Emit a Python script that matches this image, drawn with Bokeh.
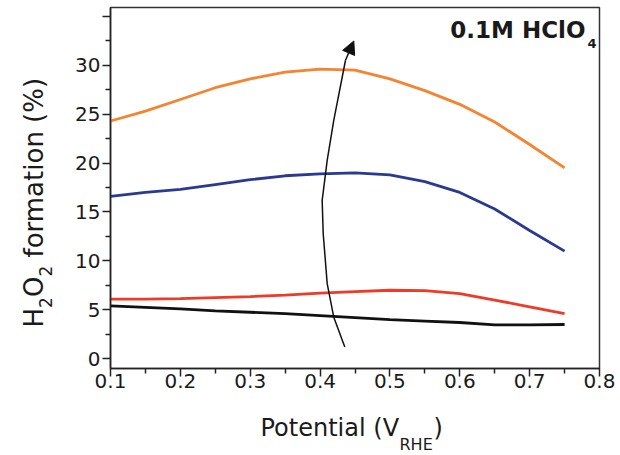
import math
from bokeh.plotting import figure
from bokeh.models import Range1d, Label, Arrow, NormalHead, FixedTicker
from bokeh.layouts import row, column
from bokeh.embed import file_html
from bokeh.resources import INLINE

# ---- data ----
potential = [0.10, 0.15, 0.20, 0.25, 0.30, 0.35, 0.40, 0.45, 0.50, 0.55, 0.60, 0.65, 0.70, 0.75]
h2o2_orange = [24.3, 25.3, 26.5, 27.7, 28.6, 29.3, 29.6, 29.5, 28.6, 27.4, 26.0, 24.2, 21.9, 19.5]
h2o2_blue = [16.6, 17.0, 17.3, 17.8, 18.3, 18.7, 18.9, 19.0, 18.8, 18.1, 17.0, 15.3, 13.1, 11.0]
h2o2_red = [6.1, 6.1, 6.15, 6.25, 6.35, 6.5, 6.7, 6.85, 7.0, 6.95, 6.65, 6.0, 5.3, 4.6]
h2o2_black = [5.4, 5.25, 5.1, 4.9, 4.75, 4.6, 4.4, 4.2, 4.0, 3.85, 3.7, 3.45, 3.45, 3.5]

series_colors = ["#F5832F", "#2B3990", "#EE3B27", "#111111"]

x_ticks = [0.1, 0.2, 0.3, 0.4, 0.5, 0.6, 0.7, 0.8]
x_minor = [0.15, 0.25, 0.35, 0.45, 0.55, 0.65, 0.75]
y_ticks = [0, 5, 10, 15, 20, 25, 30, 35]
y_minor = [2.5, 7.5, 12.5, 17.5, 22.5, 27.5, 32.5]

# trend arrow (annotation) path
arrow_x = [0.4354, 0.4196, 0.4102, 0.4045, 0.4030, 0.4102, 0.4196, 0.4364]
arrow_y = [1.19, 4.25, 7.67, 12.78, 16.19, 20.28, 24.37, 30.51]
arrow_tip = (0.4483, 32.48)

FONT = "DejaVu Sans"
TXT = "#1a1a1a"
BASE_K = 0.37  # baseline correction factor (fraction of font size)

p = figure(width=562, height=408, output_backend="svg", toolbar_location=None,
           x_range=Range1d(0.1, 0.8), y_range=Range1d(-1.0, 35.9), frame_align=False,
           min_border_left=52, min_border_right=21, min_border_top=7, min_border_bottom=40)
p.background_fill_color = "#FFFFFF"
p.border_fill_color = "#FFFFFF"
p.xgrid.visible = False
p.ygrid.visible = False
p.outline_line_color = "#333333"
p.outline_line_width = 1.5

for ys, c in zip([h2o2_orange, h2o2_blue, h2o2_red, h2o2_black], series_colors):
    p.line(potential, ys, line_color=c, line_width=2.8)

# arrow
p.line(arrow_x, arrow_y, line_color="#111111", line_width=1.5)
p.add_layout(Arrow(end=NormalHead(size=13, fill_color="#111111", line_color="#111111", line_width=1),
                   x_start=arrow_x[-1], y_start=arrow_y[-1], x_end=arrow_tip[0], y_end=arrow_tip[1],
                   line_color="#111111", line_width=1.5))

for ax in (p.xaxis[0], p.yaxis[0]):
    ax.axis_line_color = "#222222"
    ax.axis_line_width = 1.5
    ax.major_tick_line_color = "#222222"
    ax.minor_tick_line_color = "#222222"
    ax.major_tick_line_width = 1.5
    ax.minor_tick_line_width = 1.5
    ax.major_tick_in = 0
    ax.major_tick_out = 8
    ax.minor_tick_in = 0
    ax.minor_tick_out = 5
    ax.major_label_text_font = FONT
    ax.major_label_text_font_size = "20px"
    ax.major_label_text_color = TXT

p.xaxis.ticker = FixedTicker(ticks=x_ticks, minor_ticks=x_minor)
p.yaxis.ticker = FixedTicker(ticks=y_ticks, minor_ticks=y_minor)
p.yaxis.major_label_overrides = {35: ""}
p.xaxis.major_label_standoff = -3
p.yaxis.major_label_standoff = 2


def lab(fig, x, y, text, size, bold=False, align="left", angle=0, dx=0, dy=0):
    fig.add_layout(Label(x=x, y=y, x_offset=dx, y_offset=dy, text=text, text_font=FONT,
                         text_font_size=f"{size}px", text_font_style="bold" if bold else "normal",
                         text_align=align, text_baseline="alphabetic", text_color=TXT,
                         angle=angle))

# panel title: 0.1M HClO4 (inside the plot frame)
lab(p, 0.780, 32.69, "0.1M HClO", 23, bold=True, align="right", dy=BASE_K * 23)
lab(p, 0.780, 32.69, "4", 13, bold=True, dx=2, dy=-9 + BASE_K * 13)


def blank_fig(w, h):
    f = figure(width=w, height=h, output_backend="svg", toolbar_location=None,
               x_range=Range1d(0, w), y_range=Range1d(h, 0),
               x_axis_location=None, y_axis_location=None, frame_align=False,
               min_border=0, min_border_left=0, min_border_right=0,
               min_border_top=0, min_border_bottom=0)
    f.grid.visible = False
    f.outline_line_color = None
    f.background_fill_color = "#FFFFFF"
    f.border_fill_color = "#FFFFFF"
    return f

# x-axis title panel (pixel coordinates inside the panel, y from top)
xf = blank_fig(562, 47)
lab(xf, 202, 28.7 - BASE_K * 24, "Potential (V", 24)
lab(xf, 341, 42.0 - BASE_K * 16, "RHE", 16)
lab(xf, 375, 28.7 - BASE_K * 24, ")", 24)

# y-axis title panel (rotated text, pixel coordinates inside the panel)
yf = blank_fig(58, 455)
A = math.pi / 2
xb_main = 43.3 - BASE_K * 26
xb_sub = 51.0 - BASE_K * 17
lab(yf, xb_main, 327.0, "H", 26, angle=A)
lab(yf, xb_sub, 307.4, "2", 17, angle=A)
lab(yf, xb_main, 296.6, "O", 26, angle=A)
lab(yf, xb_sub, 276.1, "2", 17, angle=A)
lab(yf, xb_main, 257.0, "formation (%)", 26, angle=A)

layout = row(yf, column(p, xf, spacing=0), spacing=0)
open("out.html", "w").write(file_html(layout, INLINE))
